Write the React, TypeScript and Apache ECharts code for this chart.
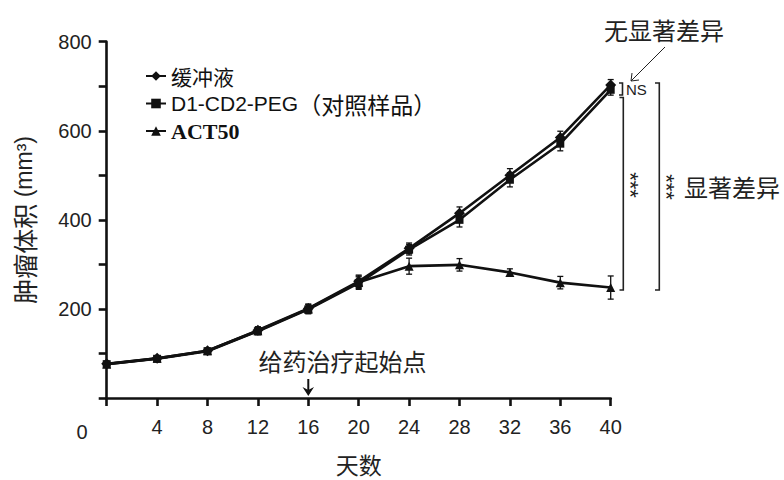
import React, { useEffect, useRef } from "react";
import * as echarts from "echarts";

const days = [0, 4, 8, 12, 16, 20, 24, 28, 32, 36, 40];
const bufferVals = [77, 89, 106, 152, 201, 262, 336, 415, 500, 585, 703];
const d1Vals = [76, 88, 105, 150, 199, 258, 333, 400, 490, 571, 692];
const act50Vals = [76, 89, 106, 151, 200, 260, 296, 299, 282, 259, 248];
const bufferErr = [5, 5, 6, 8, 10, 14, 12, 14, 15, 14, 12];
const d1Err = [5, 5, 6, 8, 10, 14, 12, 16, 16, 16, 12];
const act50Err = [5, 5, 6, 8, 10, 14, 18, 14, 8, 14, 26];

const seriesNames = ["缓冲液", "D1-CD2-PEG（对照样品）", "ACT50"];
const xTicks = [0, 4, 8, 12, 16, 20, 24, 28, 32, 36, 40];

const CJK = '"Noto Sans CJK SC", sans-serif';
const SANS = '"Liberation Sans", Arial, sans-serif';
const SERIF = '"Liberation Serif", "Times New Roman", serif';

function pairs(vals: number[]) {
  return days.map((d, i) => [d, vals[i]]);
}
function errData(vals: number[], err: number[]) {
  return days.map((d, i) => [d, vals[i] - err[i], vals[i] + err[i]]);
}

const errRender = (params: any, api: any) => {
  const x = api.value(0);
  const lo = api.coord([x, api.value(1)]);
  const hi = api.coord([x, api.value(2)]);
  const cap = 3;
  const style = { stroke: "#111", lineWidth: 1.3 };
  return {
    type: "group",
    children: [
      { type: "line", shape: { x1: lo[0], y1: lo[1], x2: hi[0], y2: hi[1] }, style },
      { type: "line", shape: { x1: lo[0] - cap, y1: lo[1], x2: lo[0] + cap, y2: lo[1] }, style },
      { type: "line", shape: { x1: hi[0] - cap, y1: hi[1], x2: hi[0] + cap, y2: hi[1] }, style },
    ],
  };
};

export default function App() {
  const ref = useRef<HTMLDivElement>(null);
  useEffect(() => {
    if (!ref.current) return;
    const chart = echarts.init(ref.current, undefined, { renderer: "svg" });
    const lineStyle = { color: "#111", width: 2.6 };
    const itemStyle = { color: "#111" };
    const annText = (text: string, x: number, y: number, align = "center", size = 24) => ({
      type: "text",
      x,
      y,
      style: { text, font: `${size}px ${CJK}`, fill: "#222", align, verticalAlign: "middle" },
    });
    const blk = { stroke: "#222", lineWidth: 1.6, fill: "none" };
    const stars = (x: number, y: number) => ({
      type: "text",
      x,
      y,
      rotation: -Math.PI / 2,
      style: { text: "***", font: `22px ${SANS}`, fill: "#222", align: "center", verticalAlign: "middle" },
    });
    chart.setOption({
      animation: false,
      backgroundColor: "#fff",
      grid: { left: 106.7, right: 173.3, top: 41.7, bottom: 78.3 },
      legend: {
        orient: "vertical",
        left: 140,
        top: 60,
        itemWidth: 20,
        itemHeight: 12,
        itemGap: 5,
        data: seriesNames,
        formatter: (name: string) => {
          if (name === "ACT50") return "{b|ACT50}";
          if (name.startsWith("D1")) return "{a|D1-CD2-PEG}{d|（对照样品）}";
          return "{c|" + name + "}";
        },
        textStyle: {
          color: "#111",
          lineHeight: 22,
          rich: {
            a: { fontFamily: SANS, fontSize: 21, color: "#111", lineHeight: 22 },
            b: { fontFamily: SERIF, fontSize: 22, fontWeight: "bold", color: "#111", lineHeight: 22 },
            c: { fontFamily: CJK, fontSize: 21, color: "#111", lineHeight: 22 },
            d: { fontFamily: CJK, fontSize: 23, color: "#111", lineHeight: 22 },
          },
        },
      },
      xAxis: {
        type: "value",
        min: 0,
        max: 40,
        interval: 4,
        name: "天数",
        nameLocation: "middle",
        nameGap: 54,
        nameTextStyle: { fontFamily: CJK, fontSize: 23, color: "#222" },
        axisLine: { lineStyle: { color: "#111", width: 2.6 } },
        axisTick: { length: 8, lineStyle: { color: "#111", width: 2.6 } },
        splitLine: { show: false },
        axisLabel: {
          margin: 19,
          fontFamily: SANS,
          fontSize: 20,
          color: "#222",
          formatter: (v: number) => (v === 0 ? "" : String(v)),
          customValues: xTicks,
        },
      },
      yAxis: {
        type: "value",
        min: 0,
        max: 800,
        interval: 100,
        name: "{c|肿瘤体积}{s| (mm³)}",
        nameLocation: "middle",
        nameGap: 70,
        nameTextStyle: {
          color: "#222",
          rich: {
            c: { fontFamily: CJK, fontSize: 25, color: "#222" },
            s: { fontFamily: SANS, fontSize: 23, color: "#222" },
          },
        },
        axisLine: { show: true, lineStyle: { color: "#111", width: 2.6 } },
        axisTick: { show: true, length: 8, lineStyle: { color: "#111", width: 2.6 } },
        splitLine: { show: false },
        axisLabel: {
          margin: 15,
          fontFamily: SANS,
          fontSize: 20,
          color: "#222",
          formatter: (v: number) => (v !== 0 && v % 200 === 0 ? String(v) : ""),
        },
      },
      series: [
        {
          name: seriesNames[0],
          type: "line",
          data: pairs(bufferVals),
          symbol: "diamond",
          symbolSize: 11,
          lineStyle,
          itemStyle,
          z: 3,
        },
        {
          name: seriesNames[1],
          type: "line",
          data: pairs(d1Vals),
          symbol: "rect",
          symbolSize: 8,
          lineStyle,
          itemStyle,
          z: 3,
        },
        {
          name: seriesNames[2],
          type: "line",
          data: pairs(act50Vals),
          symbol: "triangle",
          symbolSize: 9,
          lineStyle,
          itemStyle,
          z: 3,
        },
        { type: "custom", renderItem: errRender, data: errData(bufferVals, bufferErr), encode: { x: 0, y: [1, 2] }, z: 2 },
        { type: "custom", renderItem: errRender, data: errData(d1Vals, d1Err), encode: { x: 0, y: [1, 2] }, z: 2 },
        { type: "custom", renderItem: errRender, data: errData(act50Vals, act50Err), encode: { x: 0, y: [1, 2] }, z: 2 },
      ],
      graphic: [
        { type: "text", x: 82, y: 432, style: { text: "0", font: `20px ${SANS}`, fill: "#222", align: "center", verticalAlign: "middle" } },
        annText("无显著差异", 664, 29),
        annText("显著差异", 684, 186, "left"),
        annText("给药治疗起始点", 342.5, 360),
        // start-of-treatment arrow
        { type: "line", shape: { x1: 308.3, y1: 379, x2: 308.3, y2: 394 }, style: { stroke: "#111", lineWidth: 2 } },
        { type: "polygon", shape: { points: [[302.5, 387], [308.3, 396], [314, 387], [308.3, 390]] }, style: { fill: "#111" } },
        // NS arrow
        { type: "line", shape: { x1: 665, y1: 47, x2: 631, y2: 81 }, style: { stroke: "#222", lineWidth: 1 } },
        { type: "polyline", shape: { points: [[632, 73], [631, 81], [639, 80]] }, style: { stroke: "#222", lineWidth: 1, fill: "none" } },
        // NS bracket
        { type: "polyline", shape: { points: [[619, 83], [622.5, 83], [622.5, 95], [619, 95]] }, style: blk },
        { type: "text", x: 626, y: 89, style: { text: "NS", font: `15px ${SANS}`, fill: "#222", align: "left", verticalAlign: "middle" } },
        // bracket 1
        { type: "polyline", shape: { points: [[619.5, 97.5], [623.3, 97.5], [623.3, 290], [619.5, 290]] }, style: blk },
        stars(630, 185),
        // bracket 2
        { type: "polyline", shape: { points: [[655, 83], [659.3, 83], [659.3, 290], [655, 290]] }, style: blk },
        stars(666, 187),
      ],
    });
    return () => chart.dispose();
  }, []);
  return <div ref={ref} style={{ width: 784, height: 480, position: "absolute", left: 0, top: 0 }} />;
}
